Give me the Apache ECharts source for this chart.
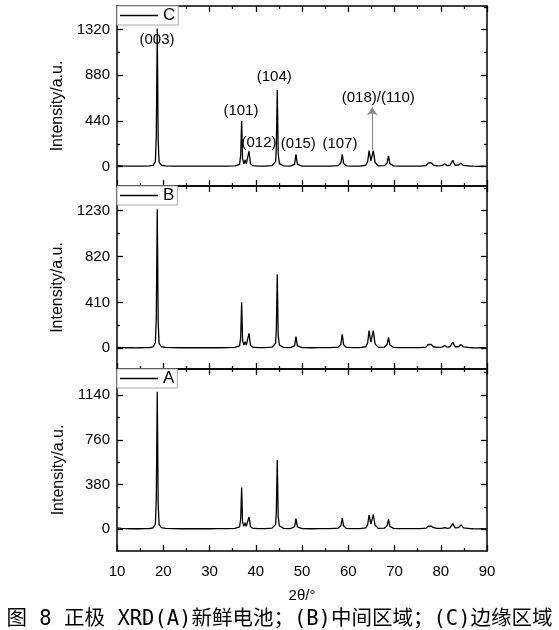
<!DOCTYPE html>
<html>
<head>
    <meta charset="utf-8">
    <script src="https://cdn.jsdelivr.net/npm/echarts@6/dist/echarts.min.js"></script>
</head>
<body style="margin:0">
    <div id="main" style="width:559px; height:630px"></div>
    <script type="text/javascript">
        // 2theta sample points shared by the three patterns
        var angles = [10, 11, 12, 13, 14, 15, 16, 17, 17.8, 18.3, 18.5, 18.7, 18.9, 19.1, 19.6, 20.5,
            22, 24, 26, 28, 30, 32, 34, 35.5, 36.5, 36.75, 36.95, 37.15, 37.45, 37.7, 37.95, 38.2,
            38.55, 38.85, 39.3, 40.5, 42, 43.5, 44.3, 44.45, 44.65, 44.85, 45.1, 46, 47.5, 48.4,
            48.7, 49.0, 50, 52, 54, 56, 57.8, 58.4, 58.7, 59.0, 59.6, 61, 62.5, 63.8, 64.2, 64.5,
            64.9, 65.4, 65.8, 66.5, 67.8, 68.4, 68.7, 69.0, 69.8, 71, 72.5, 74, 75.5, 76.8, 77.3,
            77.6, 77.9, 78.4, 79.2, 80.2, 80.9, 81.4, 82.0, 82.6, 83.1, 83.8, 84.4, 84.9, 85.5,
            85.8, 86.3, 87, 88, 89, 90];
        // A: fresh cell
        var intensityA = [12, 8, 6, 5, 6, 5, 6, 7, 12, 45, 260, 1168, 220, 40, 14, 8,
            6, 5, 6, 5, 5, 6, 6, 8, 20, 90, 354, 60, 25, 56, 25, 35,
            106, 25, 10, 6, 6, 10, 40, 150, 588, 110, 30, 8, 6, 22,
            90, 20, 6, 5, 6, 6, 10, 30, 96, 28, 8, 6, 6, 12, 40, 121,
            45, 124, 35, 8, 10, 30, 84, 25, 8, 6, 6, 6, 6, 10, 26,
            22, 28, 14, 8, 8, 14, 8, 12, 48, 12, 14, 37, 12, 10,
            14, 6, 5, 4, 5, 4];
        // B: middle region
        var intensityB = [8, 6, 5, 5, 4, 5, 6, 6, 12, 50, 280, 1243, 240, 45, 14, 8,
            6, 5, 5, 6, 5, 5, 6, 8, 22, 100, 411, 70, 28, 60, 28, 40,
            134, 28, 10, 6, 6, 10, 45, 170, 662, 120, 30, 8, 6, 22,
            104, 22, 6, 5, 6, 6, 10, 35, 125, 32, 8, 6, 6, 14, 50, 158,
            55, 158, 40, 8, 10, 35, 98, 30, 8, 6, 6, 6, 6, 10, 34,
            30, 36, 14, 8, 10, 24, 10, 14, 54, 14, 14, 33, 12, 10,
            14, 6, 5, 4, 5, 4];
        // C: edge region
        var intensityC = [10, 7, 6, 5, 6, 5, 6, 7, 12, 50, 300, 1330, 260, 45, 14, 8,
            6, 5, 6, 5, 5, 6, 6, 8, 22, 110, 443, 75, 28, 65, 28, 45,
            149, 30, 10, 6, 6, 10, 50, 190, 738, 130, 30, 8, 6, 24,
            120, 24, 6, 5, 6, 6, 10, 35, 120, 32, 8, 6, 6, 14, 50, 155,
            55, 155, 40, 8, 10, 35, 104, 30, 8, 6, 6, 6, 6, 10, 37,
            30, 39, 16, 8, 10, 26, 10, 14, 61, 14, 16, 32, 12, 10,
            14, 6, 5, 4, 5, 4];

        // y tick labels and the minor ticks between them
        var labelsC = [0, 440, 880, 1320];
        var minorC = [220, 660, 1100, 1540];
        var labelsB = [0, 410, 820, 1230];
        var minorB = [205, 615, 1025, 1435];
        var labelsA = [0, 380, 760, 1140];
        var minorA = [190, 570, 950, 1330];
        var rangeC = [-186, 1548];
        var rangeB = [-185, 1451];
        var rangeA = [-184, 1361];

        // reflection labels on panel C
        var hklNames = ['(003)', '(101)', '(012)', '(104)', '(015)', '(107)', '(018)/(110)'];
        var hklAngles = [18.65, 36.8, 40.7, 44.0, 49.2, 58.2, 66.5];
        var hklHeights = [1221, 537, 228, 867, 219, 219, 659];
        var arrowAngle = 65.2;
        var arrowFrom = 160;
        var arrowTo = 572;

        var caption = '图 8 正极 XRD(A)新鲜电池；(B)中间区域；(C)边缘区域';

        var font = 'Liberation Sans';
        var panels = [
            {name: 'C', data: intensityC, range: rangeC, labels: labelsC, minor: minorC, top: 6, height: 180},
            {name: 'B', data: intensityB, range: rangeB, labels: labelsB, minor: minorB, top: 186, height: 183},
            {name: 'A', data: intensityA, range: rangeA, labels: labelsA, minor: minorA, top: 369, height: 182}
        ];

        var grid = [], xAxis = [], yAxis = [], series = [], legend = [];
        var axisLine = {show: true, onZero: false, lineStyle: {color: '#000', width: 1.5}};

        panels.forEach(function (p, i) {
            var last = i === panels.length - 1;
            grid.push({left: 117, width: 370, top: p.top, height: p.height});
            ['bottom', 'top'].forEach(function (pos) {
                xAxis.push({
                    gridIndex: i, type: 'value', position: pos, min: 10, max: 90, interval: 10,
                    axisLine: axisLine,
                    axisTick: {inside: true, length: 6, lineStyle: {color: '#000', width: 1.3}},
                    minorTick: {show: true, splitNumber: 2, length: 3, lineStyle: {color: '#000', width: 1.3}},
                    axisLabel: {show: last && pos === 'bottom', margin: 13, fontSize: 15, color: '#000', fontFamily: font},
                    splitLine: {show: false},
                    name: (last && pos === 'bottom') ? '2θ/°' : '',
                    nameLocation: 'middle', nameGap: 37,
                    nameTextStyle: {fontSize: 15, color: '#000', fontFamily: font}
                });
            });
            ['left', 'right'].forEach(function (pos) {
                yAxis.push({
                    gridIndex: i, type: 'value', position: pos, min: p.range[0], max: p.range[1],
                    axisLine: axisLine,
                    axisTick: {inside: true, length: 6, customValues: p.labels, lineStyle: {color: '#000', width: 1.3}},
                    axisLabel: {
                        show: pos === 'left', customValues: p.labels, margin: 7, fontSize: 15, color: '#000', fontFamily: font,
                        formatter: function (v) { return String(v); }
                    },
                    splitLine: {show: false},
                    name: pos === 'left' ? 'Intensity/a.u.' : '',
                    nameLocation: 'middle', nameGap: 33, nameRotate: 90,
                    nameTextStyle: {fontSize: 16, color: '#000', fontFamily: font, padding: [0, 20, 0, 0]}
                });
                yAxis.push({
                    gridIndex: i, type: 'value', position: pos, min: p.range[0], max: p.range[1],
                    axisLine: {show: false},
                    axisTick: {inside: true, length: 3, customValues: p.minor, lineStyle: {color: '#000', width: 1.3}},
                    axisLabel: {show: false},
                    splitLine: {show: false}
                });
            });
            var s = {
                name: p.name, type: 'line', xAxisIndex: i * 2, yAxisIndex: i * 4,
                symbol: 'none', lineStyle: {color: '#000', width: 1.3}, itemStyle: {color: '#000'},
                data: angles.map(function (a, k) { return [a, p.data[k]]; })
            };
            if (p.name === 'C') {
                s.markPoint = {
                    symbol: 'circle', symbolSize: 1, itemStyle: {color: 'rgba(0,0,0,0)'},
                    label: {show: true, position: 'inside', color: '#000', fontSize: 15, fontFamily: font},
                    data: hklNames.map(function (t, k) {
                        return {coord: [hklAngles[k], hklHeights[k]], label: {formatter: t}};
                    })
                };
                s.markLine = {
                    silent: true, symbol: ['none', 'arrow'], symbolSize: 8,
                    lineStyle: {color: '#888', width: 1, type: 'solid'},
                    label: {show: false},
                    data: [[{coord: [arrowAngle, arrowFrom]}, {coord: [arrowAngle, arrowTo]}]]
                };
            }
            series.push(s);
            legend.push({
                data: [p.name], left: 117, top: p.top, orient: 'horizontal',
                icon: 'rect', backgroundColor: '#fff', borderColor: '#aaa', borderWidth: 1,
                padding: [1, 3, 1, 3], itemWidth: 38, itemHeight: 1.5, itemGap: 0,
                textStyle: {fontSize: 17, color: '#000', fontFamily: font}
            });
        });

        var myChart = echarts.init(document.getElementById('main'));
        myChart.setOption({
            backgroundColor: '#fff',
            animation: false,
            title: {
                text: caption, left: 'center', top: 604,
                textStyle: {fontSize: 20.5, fontWeight: 'normal', color: '#000', fontFamily: "'DejaVu Sans Mono', 'Noto Sans CJK SC'"}
            },
            legend: legend,
            grid: grid,
            xAxis: xAxis,
            yAxis: yAxis,
            series: series
        });
    </script>
</body>
</html>
